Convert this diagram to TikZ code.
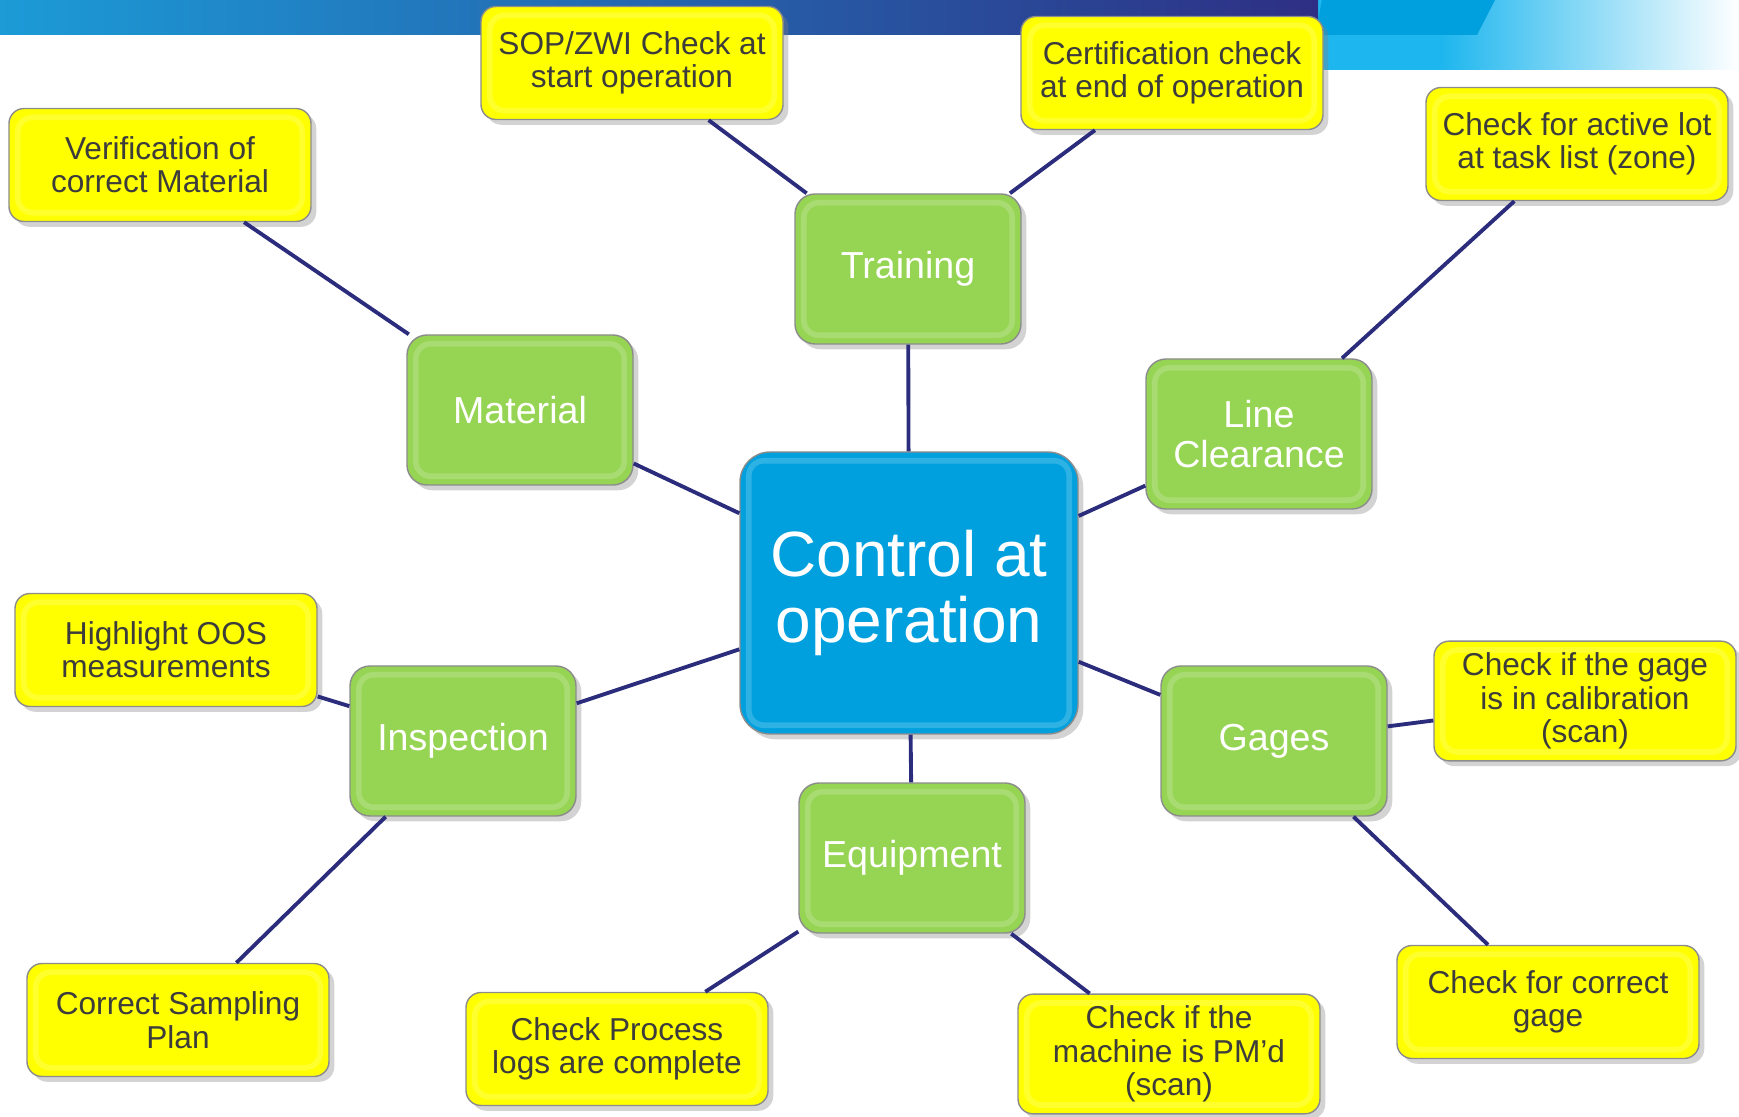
\documentclass[tikz,border=0pt]{standalone}
\usepackage{fontspec}
\setmainfont{Liberation Sans}
\usetikzlibrary{shadows}

\definecolor{barleft}{HTML}{1C9BD7}
\definecolor{barmid}{HTML}{1B86C7}
\definecolor{barright}{HTML}{2E2F84}
\definecolor{skyblue}{HTML}{1DB6EE}
\definecolor{brightblue}{HTML}{00A0DF}
\definecolor{hubblue}{HTML}{00A0DE}
\definecolor{leafgreen}{HTML}{96D453}
\definecolor{noteyellow}{HTML}{FFFF00}
\definecolor{notetext}{HTML}{3C3C3C}
\definecolor{linknavy}{HTML}{2B2D7C}

\tikzset{
  box/.style={draw=black!45, line width=0.4pt, align=center,
    drop shadow={opacity=0.35, shadow xshift=1.5pt, shadow yshift=-1.5pt},
    path picture={\draw[white, opacity=0.18, line width=1.6pt, rounded corners=1.5mm]
      ([shift={(2.5pt,2.5pt)}]path picture bounding box.south west) rectangle
      ([shift={(-2.5pt,-2.5pt)}]path picture bounding box.north east);}},
  hub/.style={box, fill=hubblue, text=white, rounded corners=3mm,
    minimum width=33.8mm, minimum height=28.2mm,
    font=\fontsize{18.2}{18.6}\selectfont},
  topic/.style={box, fill=leafgreen, text=white, rounded corners=2mm,
    minimum width=22.6mm, minimum height=15mm,
    font=\fontsize{10.7}{11.2}\selectfont},
  note/.style={box, fill=noteyellow, text=notetext, rounded corners=1.5mm,
    minimum width=30.2mm, minimum height=11.3mm,
    font=\fontsize{9}{9.5}\selectfont},
  link/.style={draw=linknavy, line width=1.1pt}
}

\begin{document}
\begin{tikzpicture}[x=0.1mm,y=-0.1mm]
    \useasboundingbox (0,0) rectangle (1739,1117);

    % Banner at the top
    \fill[skyblue] (1315,0) rectangle (1440,70);
    \shade[left color=skyblue, right color=white] (1440,0) rectangle (1739,70);
    \fill[brightblue] (1315,35) -- (1322,0) -- (1495,0) -- (1477,35) -- cycle;
    \shade[left color=barleft, middle color=barmid, right color=barright]
        (0,0) rectangle (1318,35);

    % Centre and main topics
    \node[hub] (ctrl) at (909,593) {Control at\\operation};
    \node[topic] (trn) at (908,269) {Training};
    \node[topic] (mat) at (520,410) {Material};
    \node[topic] (lc) at (1259,434) {Line\\Clearance};
    \node[topic] (insp) at (463,741) {Inspection};
    \node[topic] (gag) at (1274,741) {Gages};
    \node[topic] (eqp) at (912,858) {Equipment};

    % Checks
    \node[note] (sop) at (632,63) {SOP/ZWI Check at\\start operation};
    \node[note] (cert) at (1172,73) {Certification check\\at end of operation};
    \node[note] (verif) at (160,165) {Verification of\\correct Material};
    \node[note] (lot) at (1577,144) {Check for active lot\\at task list (zone)};
    \node[note] (oos) at (166,650) {Highlight OOS\\measurements};
    \node[note] (calib) at (1585,701) {Check if the gage\\is in calibration\\(scan)};
    \node[note] (plan) at (178,1020) {Correct Sampling\\Plan};
    \node[note] (logs) at (617,1049) {Check Process\\logs are complete};
    \node[note] (pm) at (1169,1054) {Check if the\\machine is PM’d\\(scan)};
    \node[note] (gage) at (1548,1002) {Check for correct\\gage};

    % Links
    \draw[link] (ctrl) -- (trn);
    \draw[link] (ctrl) -- (mat);
    \draw[link] (ctrl) -- (lc);
    \draw[link] (ctrl) -- (insp);
    \draw[link] (ctrl) -- (gag);
    \draw[link] (ctrl) -- (eqp);
    \draw[link] (trn) -- (sop);
    \draw[link] (trn) -- (cert);
    \draw[link] (mat) -- (verif);
    \draw[link] (lc) -- (lot);
    \draw[link] (insp) -- (oos);
    \draw[link] (insp) -- (plan);
    \draw[link] (gag) -- (calib);
    \draw[link] (gag) -- (gage);
    \draw[link] (eqp) -- (logs);
    \draw[link] (eqp) -- (pm);
\end{tikzpicture}
\end{document}
